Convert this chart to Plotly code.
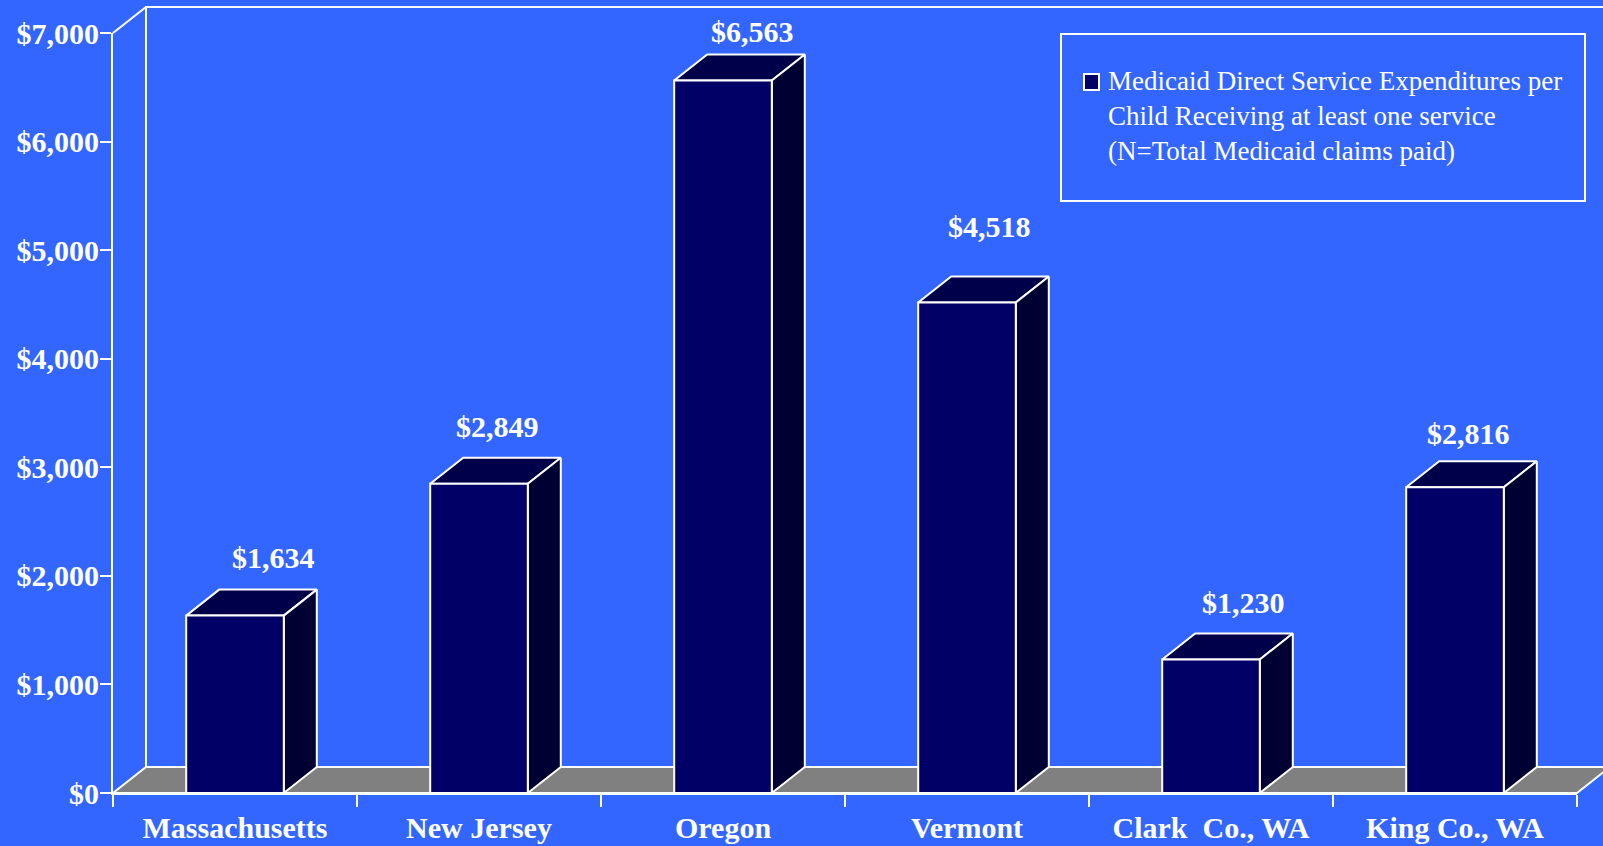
import plotly.graph_objects as go

# ---- data ----
categories = ["Massachusetts", "New Jersey", "Oregon", "Vermont", "Clark\u00a0 Co., WA", "King Co., WA"]
spending = [1634, 2849, 6563, 4518, 1230, 2816]
y_ticks = [0, 1000, 2000, 3000, 4000, 5000, 6000, 7000]
y_tick_labels = ["$0", "$1,000", "$2,000", "$3,000", "$4,000", "$5,000", "$6,000", "$7,000"]
legend_lines = [
    "Medicaid Direct Service Expenditures per",
    "Child Receiving at least one service",
    "(N=Total Medicaid claims paid)",
]

# ---- page geometry (pixels) ----
W, H = 1603, 846
PLOT_L, PLOT_R, PLOT_T, PLOT_B = 113, 1577, 33, 793
Y_MAX = 7000
DEPTH_X_PX, DEPTH_Y_PX = 33, 26
BAR_W = 0.4

BG = "#3366FF"
FRONT = "#000066"
TOP = "#00004A"
SIDE = "#000033"
FLOOR = "#808080"
WHITE = "#FFFFFF"
SERIF = "Times New Roman, Liberation Serif, serif"

# per-label nudges in pixels: (right shift, gap above the back edge of the bar top)
label_nudge = [(38, 22), (18, 21), (29, 13), (22, 40), (32, 21), (13, 18)]

n = len(categories)
px_cat = (PLOT_R - PLOT_L) / n
px_usd = (PLOT_B - PLOT_T) / Y_MAX
DX = DEPTH_X_PX / px_cat
DY = DEPTH_Y_PX / px_usd

# full-page numeric axes share the same scale as the front axes
full_x = [-0.5 - PLOT_L / px_cat, -0.5 + (W - PLOT_L) / px_cat]
full_y = [-(H - PLOT_B) / px_usd, PLOT_B / px_usd]

fig = go.Figure()

def poly(xs, ys, fill, width=2):
    fig.add_trace(go.Scatter(
        x=list(xs) + [xs[0]], y=list(ys) + [ys[0]],
        mode="lines", fill="toself", fillcolor=fill,
        line=dict(color=WHITE, width=width),
        xaxis="x", yaxis="y", hoverinfo="skip", showlegend=False,
    ))

def line(xs, ys):
    fig.add_trace(go.Scatter(
        x=xs, y=ys, mode="lines", line=dict(color=WHITE, width=2),
        xaxis="x", yaxis="y", hoverinfo="skip", showlegend=False,
    ))

x_lo, x_hi = -0.5, n - 0.5

# floor
poly([x_lo, x_hi, x_hi + DX, x_lo + DX], [0, 0, DY, DY], FLOOR)
# back wall outline
line([x_lo + DX, x_lo + DX, x_hi + DX], [DY, Y_MAX + DY, Y_MAX + DY])
line([x_lo, x_lo + DX], [Y_MAX, Y_MAX + DY])

# bar tops and sides
for i, v in enumerate(spending):
    l, r = i - BAR_W / 2, i + BAR_W / 2
    poly([l, r, r + DX, l + DX], [v, v, v + DY, v + DY], TOP)
    poly([r, r + DX, r + DX, r], [0, DY, v + DY, v], SIDE)

# front faces
fig.add_trace(go.Bar(
    x=categories, y=spending, width=BAR_W,
    marker=dict(color=FRONT, line=dict(color=WHITE, width=2)),
    xaxis="x2", yaxis="y2", hoverinfo="skip", showlegend=False,
))

annotations = []
for i, v in enumerate(spending):
    sx, gap = label_nudge[i]
    annotations.append(dict(
        x=i, y=v + DY, xref="x", yref="y",
        text=f"${v:,}", showarrow=False,
        xanchor="center", yanchor="middle",
        xshift=sx, yshift=gap + 10,
        font=dict(family=SERIF, size=30, color=WHITE, weight="bold"),
    ))

# legend box
def px_x(p):
    return p / W

def px_y(p):
    return 1 - p / H

shapes = [
    dict(type="rect", xref="paper", yref="paper",
         x0=px_x(1061), x1=px_x(1585), y0=px_y(201), y1=px_y(34),
         line=dict(color=WHITE, width=2), fillcolor="rgba(0,0,0,0)"),
    dict(type="rect", xref="paper", yref="paper",
         x0=px_x(1084), x1=px_x(1099), y0=px_y(90), y1=px_y(74),
         line=dict(color=WHITE, width=2), fillcolor=FRONT),
]
annotations.append(dict(
    x=px_x(1106), y=px_y(64), xref="paper", yref="paper",
    text="<br>".join(legend_lines), showarrow=False,
    xanchor="left", yanchor="top", align="left",
    font=dict(family=SERIF, size=27, color=WHITE),
))

axis_font = dict(family=SERIF, size=30, color=WHITE, weight="bold")

fig.update_layout(
    width=W, height=H,
    margin=dict(l=0, r=0, t=0, b=0, autoexpand=False),
    paper_bgcolor=BG, plot_bgcolor="rgba(0,0,0,0)",
    showlegend=False,
    xaxis=dict(domain=[0, 1], range=full_x, visible=False, anchor="y",
               fixedrange=True, automargin=False),
    yaxis=dict(domain=[0, 1], range=full_y, visible=False, anchor="x",
               fixedrange=True, automargin=False),
    xaxis2=dict(
        domain=[PLOT_L / W, PLOT_R / W], anchor="y2", automargin=False,
        type="category", categoryorder="array", categoryarray=categories,
        range=[-0.5, n - 0.5], showgrid=False, zeroline=False,
        showline=True, linecolor=WHITE, linewidth=2,
        ticks="outside", tickson="boundaries", ticklen=12, tickwidth=2, tickcolor=WHITE,
        tickfont=axis_font, ticklabelstandoff=7,
    ),
    yaxis2=dict(
        domain=[1 - PLOT_B / H, 1 - PLOT_T / H], anchor="x2", automargin=False,
        range=[0, Y_MAX], showgrid=False, zeroline=False,
        tickvals=y_ticks, ticktext=y_tick_labels,
        showline=True, linecolor=WHITE, linewidth=2,
        ticks="outside", ticklen=11, tickwidth=2, tickcolor=WHITE,
        tickfont=axis_font, ticklabelstandoff=-5,
    ),
    shapes=shapes,
    annotations=annotations,
)

fig.write_html("out.html")
